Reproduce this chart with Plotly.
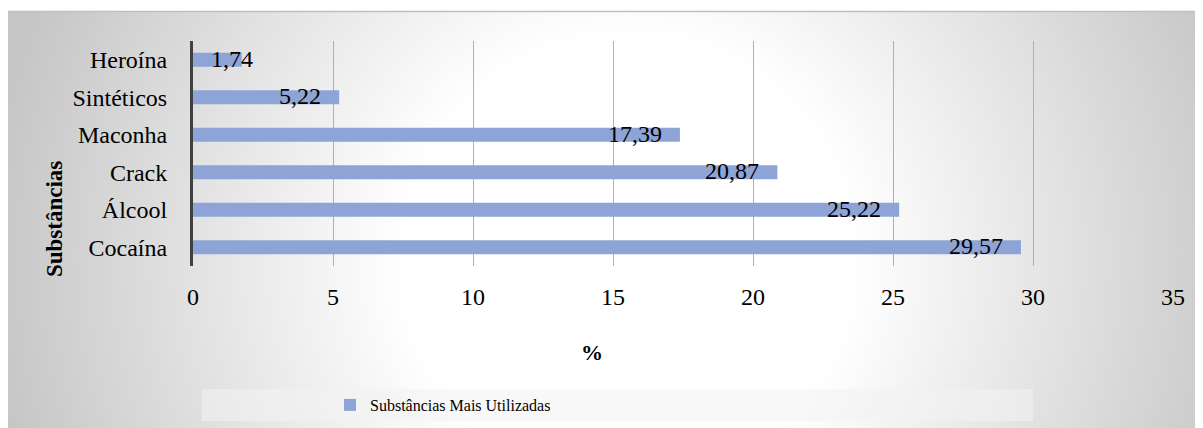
import base64
import plotly.graph_objects as go

categories = ["Cocaína", "Álcool", "Crack", "Maconha", "Sintéticos", "Heroína"]
values = [29.57, 25.22, 20.87, 17.39, 5.22, 1.74]
labels = ["29,57", "25,22", "20,87", "17,39", "5,22", "1,74"]
series_name = "Substâncias Mais Utilizadas"
x_ticks = [0, 5, 10, 15, 20, 25, 30, 35]

FONT = "'Times New Roman', 'Liberation Serif', Tinos, 'DejaVu Serif', serif"
BAR = "#8EA4D6"

# page offset introduced by the browser's default body margin
OFF = 8
W, H = 1203, 428
# plot area in page pixels: x 193..1173, y 41..266
L = 193 - OFF
T = 41 - OFF
pw = 1173 - 193
ph = 266 - 41
R = W - L - pw
B = H - T - ph

def px_to_paper_x(px):
    return (px - OFF - L) / pw

def px_to_paper_y(py):
    return (T + ph - (py - OFF)) / ph

svg = f"""<svg xmlns='http://www.w3.org/2000/svg' width='{W}' height='{H}' viewBox='0 0 {W} {H}' preserveAspectRatio='none'>
<defs><radialGradient id='g' gradientUnits='userSpaceOnUse' cx='620' cy='250' r='640'>
<stop offset='0' stop-color='#ffffff'/><stop offset='0.35' stop-color='#ffffff'/>
<stop offset='1' stop-color='#c6c6c6'/></radialGradient></defs>
<rect x='0' y='0' width='{W}' height='{H}' fill='url(#g)'/></svg>"""
src = "data:image/svg+xml;base64," + base64.b64encode(svg.encode()).decode()

fig = go.Figure()
fig.add_trace(go.Bar(
    y=categories, x=values, orientation="h", name=series_name,
    marker=dict(color=BAR, line=dict(width=0)),
    hoverinfo="skip", showlegend=True,
))

annotations = []
for cat, v, lab in zip(categories, values, labels):
    if v < 3:
        annotations.append(dict(x=0, y=cat, xref="x", yref="y", text=lab, showarrow=False,
                                xanchor="left", xshift=16, yshift=1,
                                font=dict(family=FONT, size=24, color="#000")))
    else:
        annotations.append(dict(x=v, y=cat, xref="x", yref="y", text=lab, showarrow=False,
                                xanchor="right", xshift=-16, yshift=1,
                                font=dict(family=FONT, size=24, color="#000")))

annotations.append(dict(x=px_to_paper_x(592), y=px_to_paper_y(352), xref="paper", yref="paper",
                        text="<b>%</b>", showarrow=False, xanchor="center", yanchor="middle",
                        font=dict(family=FONT, size=22, color="#000")))
annotations.append(dict(x=px_to_paper_x(54), y=px_to_paper_y(219), xref="paper", yref="paper",
                        text="<b>Substâncias</b>", showarrow=False, textangle=-90,
                        xanchor="center", yanchor="middle",
                        font=dict(family=FONT, size=23, color="#000")))

shapes = [
    dict(type="rect", xref="paper", yref="paper",
         x0=px_to_paper_x(202), x1=px_to_paper_x(1033),
         y0=px_to_paper_y(421), y1=px_to_paper_y(389),
         fillcolor="rgba(242,242,242,0.55)", line=dict(width=0), layer="below"),
    dict(type="line", xref="paper", yref="paper",
         x0=px_to_paper_x(8), x1=px_to_paper_x(W + OFF),
         y0=px_to_paper_y(11.5), y1=px_to_paper_y(11.5),
         line=dict(color="#bfbfbf", width=1.5)),
]

fig.update_layout(
    width=W, height=H,
    margin=dict(l=L, r=R, t=T, b=B, pad=0),
    paper_bgcolor="white", plot_bgcolor="rgba(0,0,0,0)",
    bargap=0.627,
    font=dict(family=FONT, size=24, color="#000"),
    images=[dict(source=src, xref="paper", yref="paper",
                 x=px_to_paper_x(8), y=px_to_paper_y(11),
                 sizex=px_to_paper_x(W + OFF) - px_to_paper_x(8),
                 sizey=px_to_paper_y(11) - px_to_paper_y(H + OFF),
                 xanchor="left", yanchor="top", sizing="stretch", layer="below")],
    xaxis=dict(range=[0, 35], tickvals=x_ticks, ticktext=[str(t) for t in x_ticks],
               showgrid=True, gridcolor="#b0b0b0", gridwidth=1, zeroline=False,
               showline=False, ticks="", ticklabelstandoff=14,
               tickfont=dict(family=FONT, size=24, color="#000"), fixedrange=True),
    yaxis=dict(type="category", categoryorder="array", categoryarray=categories,
               showgrid=False, zeroline=False, showline=True, linecolor="#404040",
               linewidth=3, ticks="", ticklabelstandoff=18,
               tickfont=dict(family=FONT, size=24, color="#000"), fixedrange=True),
    legend=dict(orientation="h", x=px_to_paper_x(330), y=px_to_paper_y(405),
                xanchor="left", yanchor="middle", bgcolor="rgba(0,0,0,0)",
                font=dict(family=FONT, size=16, color="#000"), itemwidth=30,
                itemclick=False, itemdoubleclick=False),
    annotations=annotations, shapes=shapes,
    showlegend=True,
)

fig.write_html("out.html", config={"displayModeBar": False})
